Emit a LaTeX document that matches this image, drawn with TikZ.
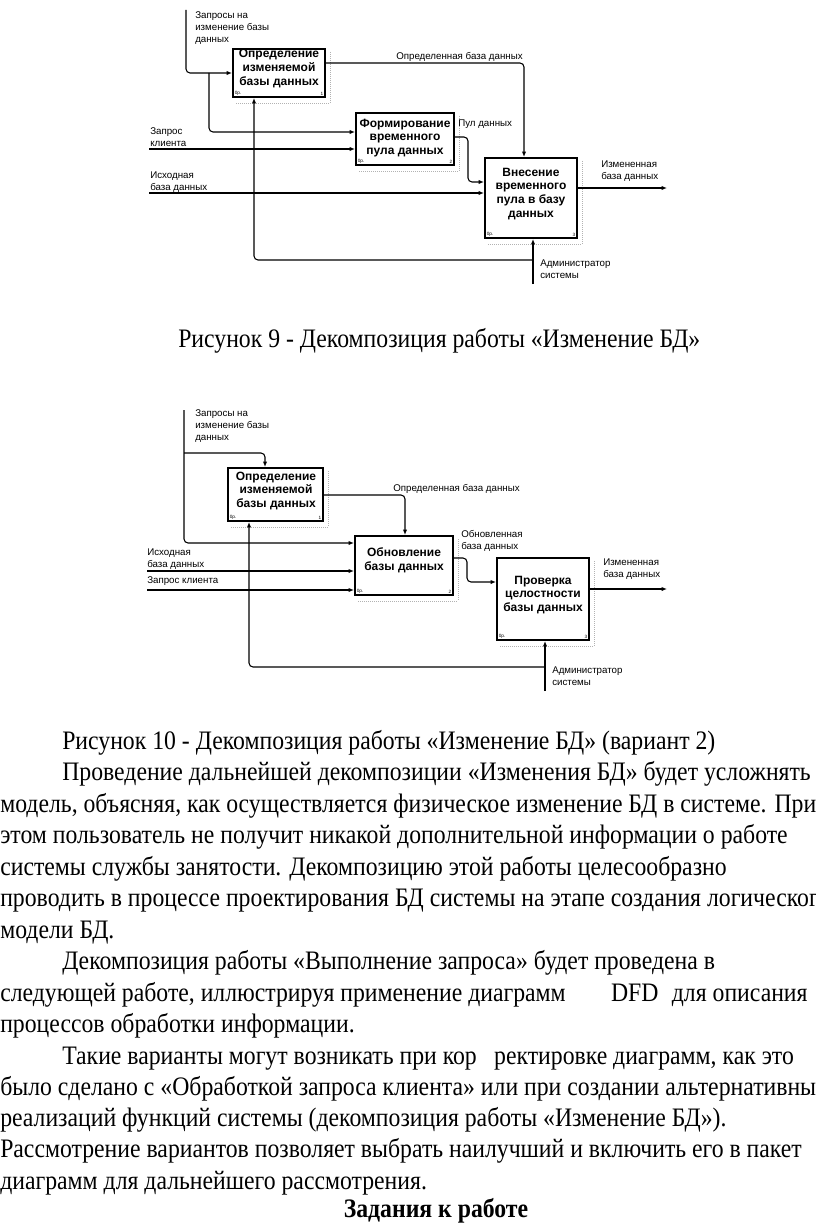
\documentclass[tikz,border=0pt]{standalone}
\usepackage{fontspec}
\setmainfont{Liberation Serif}
\newfontfamily\diag{Liberation Sans}
\newfontfamily\bodyfont[FakeStretch=0.89]{Liberation Serif}
\usetikzlibrary{arrows.meta,fit,calc}
\begin{document}
\begin{tikzpicture}[x=0.75pt,y=-0.75pt,
  box/.style={draw, line width=1.5pt, inner sep=0pt},
  arr/.style={line width=0.8pt, rounded corners=3pt, -{Latex[length=4pt,width=3.2pt]}},
  lbl/.style={font=\diag\fontsize{7.3}{9}\selectfont, align=left, inner sep=0pt, anchor=north west},
  btxt/.style={font=\diag\bfseries\fontsize{9}{10.4}\selectfont, align=center, inner sep=0pt},
  tinyt/.style={font=\diag\fontsize{3.5}{4}\selectfont, inner sep=0pt},
  ticks/.style={gray!60, densely dotted, line width=0.5pt},
  body/.style={font=\bodyfont\fontsize{20}{22}\selectfont, anchor=base west, inner sep=0pt},
]
\useasboundingbox (0,0) rectangle (816,1227);
\clip (0,0) rectangle (816,1227);

% ---------------- Figure 9 ----------------
\node[box, fit={(233,49)(325,97)}] (a1) {};
\node[box, fit={(356,113)(454,165)}] (a2) {};
\node[box, fit={(485,158)(577,238)}] (a3) {};
\node[btxt] (a1t) at (279,68.5) {Определение\\изменяемой\\базы данных};
\node[btxt] (a2t) at (405,138) {Формирование\\временного\\пула данных};
\node[btxt] (a3t) at (531,194) {Внесение\\временного\\пула в базу\\данных};
\foreach \b/\n in {a1/1,a2/2,a3/3}{
  \node[tinyt, anchor=south west] (\b c) at ($(\b.south west)+(2.5,-2)$) {0р.};
  \node[tinyt, anchor=south east] (\b n) at ($(\b.south east)+(-2.5,-2)$) {\n};
  \draw[ticks] ($(\b.south west)+(4,5)$) -- ($(\b.south east)+(4,5)$);
  \draw[ticks] ($(\b.north east)+(4,4)$) -- ($(\b.south east)+(4,5)$);
}

\coordinate (q1) at (186,10);
\coordinate (j1) at (209,73);
\coordinate (zk) at (149,149);
\coordinate (ib) at (149,193);
\coordinate (out1) at (667,188);
\coordinate (adm) at (533,284);
\coordinate (j2) at (533,260);

\draw[arr] (q1) |- (a1.west);
\draw[arr] (j1) |- (a2.west |- 0,132);
\draw[arr] (zk) -- (a2.west |- zk);
\draw[arr] (ib) -- (a3.west |- ib);
\draw[arr] (a1.east |- 0,63) -- (524,63) -- (a3.north -| 524,0);
\draw[arr] (a2.east |- 0,137) -- (468,137) |- (a3.west |- 0,182);
\draw[arr] (a3.east |- out1) -- (out1);
\draw[arr] (adm) -- (a3.south -| adm);
\draw[arr] (j2) -| (a1.south -| 254,0);

\node[lbl] (l1) at (195,11) {Запросы на\\изменение базы\\данных};
\node[lbl] (l2) at (396,52) {Определенная база данных};
\node[lbl] (l3) at (458,120) {Пул данных};
\node[lbl] (l4) at (601,161) {Измененная\\база данных};
\node[lbl] (l5) at (150,127) {Запрос\\клиента};
\node[lbl] (l6) at (150,172) {Исходная\\база данных};
\node[lbl] (l7) at (540,260) {Администратор\\системы};

\node[body] (cap9) at (178,347) {Рисунок 9 - Декомпозиция работы «Изменение БД»};

% ---------------- Figure 10 ----------------
\node[box, fit={(228,468)(323,521)}] (b1) {};
\node[box, fit={(355,536)(453,595)}] (b2) {};
\node[box, fit={(497,558)(589,640)}] (b3) {};
\node[btxt] (b1t) at (276,491) {Определение\\изменяемой\\базы данных};
\node[btxt] (b2t) at (404,560) {Обновление\\базы данных};
\node[btxt] (b3t) at (543,595) {Проверка\\целостности\\базы данных};
\foreach \b/\n in {b1/1,b2/2,b3/3}{
  \node[tinyt, anchor=south west] (\b c) at ($(\b.south west)+(2.5,-2)$) {0р.};
  \node[tinyt, anchor=south east] (\b n) at ($(\b.south east)+(-2.5,-2)$) {\n};
  \draw[ticks] ($(\b.south west)+(4,5)$) -- ($(\b.south east)+(4,5)$);
  \draw[ticks] ($(\b.north east)+(4,4)$) -- ($(\b.south east)+(4,5)$);
}

\coordinate (q2) at (184,410);
\coordinate (j3) at (184,453);
\coordinate (ib2) at (147,571);
\coordinate (zk2) at (147,590);
\coordinate (out2) at (667,589);
\coordinate (adm2) at (545,691);
\coordinate (j4) at (545,667);

\draw[arr] (q2) |- (b2.west |- 0,543);
\draw[arr] (j3) -| (b1.north -| 265,0);
\draw[arr] (b1.east |- 0,495) -| (b2.north -| 405,0);
\draw[arr] (ib2) -- (b2.west |- ib2);
\draw[arr] (zk2) -- (b2.west |- zk2);
\draw[arr] (b2.east |- 0,558) -- (467,558) |- (b3.west |- 0,582);
\draw[arr] (b3.east |- out2) -- (out2);
\draw[arr] (adm2) -- (b3.south -| adm2);
\draw[arr] (j4) -| (b1.south -| 249,0);

\node[lbl] (m1) at (195,409) {Запросы на\\изменение базы\\данных};
\node[lbl] (m2) at (393,484) {Определенная база данных};
\node[lbl] (m3) at (461,530) {Обновленная\\база данных};
\node[lbl] (m4) at (603,559) {Измененная\\база данных};
\node[lbl] (m5) at (147,549) {Исходная\\база данных};
\node[lbl] (m6) at (147,576) {Запрос клиента};
\node[lbl] (m7) at (552,667) {Администратор\\системы};

% ---------------- Text ----------------
\node[body] (t1) at (62,749) {Рисунок 10 - Декомпозиция работы «Изменение БД» (вариант 2)};
\node[body] (t2) at (62,780) {Проведение дальнейшей декомпозиции «Изменения БД» будет усложнять};
\node[body] (t3) at (0,812) {модель, объясняя, как осуществляется физическое изменение БД в системе. При};
\node[body] (t4) at (0,843) {этом пользователь не получит никакой дополнительной информации о работе};
\node[body] (t5) at (0,875) {системы службы занятости. Декомпозицию этой работы целесообразно};
\node[body] (t6) at (0,906) {проводить в процессе проектирования БД системы на этапе создания логического};
\node[body] (t7) at (0,938) {модели БД.};
\node[body] (t8) at (62,969) {Декомпозиция работы «Выполнение запроса» будет проведена в};
\node[body] (t9) at (0,1001) {следующей работе, иллюстрируя применение диаграмм\hspace{34pt}DFD\hspace{10pt}для описания};
\node[body] (t10) at (0,1032) {процессов обработки информации.};
\node[body] (t11) at (62,1064) {Такие варианты могут возникать при кор\hspace{13pt}ректировке диаграмм, как это};
\node[body] (t12) at (0,1095) {было сделано с «Обработкой запроса клиента» или при создании альтернативных};
\node[body] (t13) at (0,1126) {реализаций функций системы (декомпозиция работы «Изменение БД»).};
\node[body] (t14) at (0,1157) {Рассмотрение вариантов позволяет выбрать наилучший и включить его в пакет};
\node[body] (t15) at (0,1189) {диаграмм для дальнейшего рассмотрения.};
\node[body, font=\bodyfont\bfseries\fontsize{20}{22}\selectfont, anchor=base] (t16) at (436,1217) {Задания к работе};
\end{tikzpicture}
\end{document}
